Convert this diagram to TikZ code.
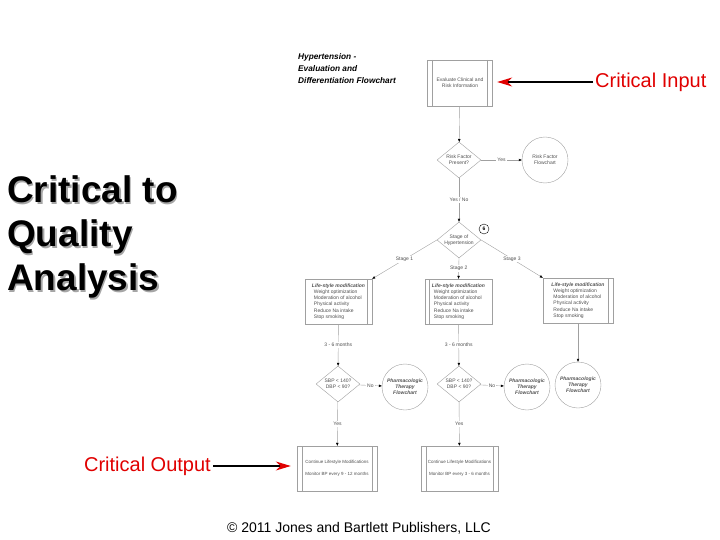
\documentclass[tikz,border=0pt]{standalone}
\usepackage{fontspec}
\setmainfont{Liberation Sans}
\usetikzlibrary{shapes.geometric,arrows.meta,positioning}

\begin{document}
\begin{tikzpicture}[x=1pt,y=-1pt,
  small/.style={font=\fontsize{5}{6.2}\selectfont,text=chartext},
  flow/.style={draw=chartline,line width=0.4pt},
  go/.style={flow,-{Triangle[length=3pt,width=2.4pt,color=black]}},
  box/.style={flow,small,rectangle,minimum width=#1,minimum height=45pt,inner sep=1pt,align=center},
  barleft/.style={path picture={\draw[chartline,line width=0.4pt]
    ([xshift=4pt]path picture bounding box.north west) -- ([xshift=4pt]path picture bounding box.south west);}},
  barright/.style={path picture={\draw[chartline,line width=0.4pt]
    ([xshift=-5pt]path picture bounding box.north east) -- ([xshift=-5pt]path picture bounding box.south east);}},
  barboth/.style={path picture={\draw[chartline,line width=0.4pt]
    ([xshift=5pt]path picture bounding box.north west) -- ([xshift=5pt]path picture bounding box.south west)
    ([xshift=-5pt]path picture bounding box.north east) -- ([xshift=-5pt]path picture bounding box.south east);}},
  decision/.style={flow,small,diamond,minimum width=44pt,minimum height=36pt,inner sep=0pt,aspect=1.2,align=center,fill=white},
  conn/.style={flow,small,circle,minimum size=46pt,inner sep=0pt,align=center},
  pharm/.style={conn,font=\fontsize{5}{6.2}\selectfont\bfseries\itshape},
  lbl/.style={small,fill=white,inner sep=1pt},
  crit/.style={font=\fontsize{20}{22}\selectfont,text=critred,inner sep=0pt},
  redarrow/.style={line width=1.2pt,draw=black,-{Stealth[length=15pt,width=9pt,color=critred]}}
]
  \definecolor{chartline}{HTML}{A0A0A0}
  \definecolor{chartext}{HTML}{505050}
  \definecolor{critred}{HTML}{E00000}
  \useasboundingbox (0,0) rectangle (720,540);

  % title and flowchart
  \node[anchor=north west,align=left,inner sep=0pt,font=\fontsize{8.3}{12}\selectfont\bfseries\itshape] (title) at (298,53)
    {Hypertension -\\Evaluation and\\Differentiation Flowchart};
  \node[box=65pt,minimum height=46pt,barboth] (eval) at (460,83) {Evaluate Clinical and\\Risk Information};
  \node[decision] (rfp) at (459,160) {Risk Factor\\Present?};
  \node[conn] (rff) at (545,160) {Risk Factor\\Flowchart};
  \node[decision] (stage) at (459,240) {Stage of\\Hypertension};
  \node[draw=black,circle,line width=0.4pt,minimum size=10pt,inner sep=0pt,font=\fontsize{5}{6}\selectfont\bfseries] (mark) at (484,229) {6};

  \node[box=67pt,barright,align=left] (life1) at (338.5,301.5)
    {\textbf{\textit{Life-style modification}}\\\hspace{2pt}Weight optimization\\\hspace{2pt}Moderation of alcohol\\\hspace{2pt}Physical activity\\\hspace{2pt}Reduce Na intake\\\hspace{2pt}Stop smoking};
  \node[box=67pt,barleft,align=left] (life2) at (458.5,301.5)
    {\textbf{\textit{Life-style modification}}\\\hspace{2pt}Weight optimization\\\hspace{2pt}Moderation of alcohol\\\hspace{2pt}Physical activity\\\hspace{2pt}Reduce Na intake\\\hspace{2pt}Stop smoking};
  \node[box=70pt,barright,align=left] (life3) at (578,300.5)
    {\textbf{\textit{Life-style modification}}\\\hspace{2pt}Weight optimization\\\hspace{2pt}Moderation of alcohol\\\hspace{2pt}Physical activity\\\hspace{2pt}Reduce Na intake\\\hspace{2pt}Stop smoking};

  \node[decision] (bp1) at (338,384) {SBP < 140?\\DBP < 90?};
  \node[pharm] (ph1) at (405,387) {Pharmacologic\\Therapy\\Flowchart};
  \node[decision] (bp2) at (459,384) {SBP < 140?\\DBP < 90?};
  \node[pharm] (ph2) at (527,387) {Pharmacologic\\Therapy\\Flowchart};
  \node[pharm] (ph3) at (578,385) {Pharmacologic\\Therapy\\Flowchart};

  \node[box=80pt,barboth,font=\fontsize{4.5}{6}\selectfont] (cont1) at (337,468.5) {Continue Lifestyle Modifications\\[6pt]Monitor BP every 9 - 12 months};
  \node[box=77pt,barboth,font=\fontsize{4.5}{6}\selectfont] (cont2) at (459.5,468.5) {Continue Lifestyle Modifications\\[6pt]Monitor BP every 3 - 6 months};

  \draw[go] (eval) -- (rfp);
  \draw[go] (rfp) -- node[lbl] {Yes} (rff);
  \draw[go] (rfp) -- node[lbl] {Yes / No} (stage);
  \draw[go] (stage.west) -- node[lbl] {Stage 1} (life1.north east);
  \draw[go] (stage.south) -- node[lbl] {Stage 2} (life2.north);
  \draw[go] (stage.east) -- node[lbl] {Stage 3} (life3.north west);
  \draw[go] (life1) -- node[lbl] {3 - 6 months} (bp1);
  \draw[go] (life2) -- node[lbl] {3 - 6 months} (bp2);
  \draw[go] (life3) -- (ph3);
  \draw[go] (bp1) -- node[lbl] {No} (ph1);
  \draw[go] (bp2) -- node[lbl] {No} (ph2);
  \draw[go] (bp1) -- node[lbl] {Yes} (cont1);
  \draw[go] (bp2) -- node[lbl] {Yes} (cont2);

  % callouts
  \node[anchor=north west,align=left,inner sep=0pt,text=black!35,font=\fontsize{37}{44}\selectfont\bfseries] (ctqshadow) at (8.5,177)
    {Critical to\\Quality\\Analysis};
  \node[anchor=north west,align=left,inner sep=0pt,font=\fontsize{37}{44}\selectfont\bfseries] (ctq) at (7,175.5)
    {Critical to\\Quality\\Analysis};
  \node[crit,anchor=west] (cin) at (595,82) {Critical Input};
  \node[crit,anchor=east] (cout) at (211,466) {Critical Output};
  \draw[redarrow,shorten <=2pt,shorten >=4.5pt] (cin.west) -- (cin.west -| eval.east);
  \draw[redarrow,shorten <=2pt,shorten >=6pt] (cout.east) -- (cout.east -| cont1.west);

  \node[anchor=base,inner sep=0pt,font=\fontsize{14}{16}\selectfont] (foot) at (359,532)
    {© 2011 Jones and Bartlett Publishers, LLC};
\end{tikzpicture}
\end{document}
